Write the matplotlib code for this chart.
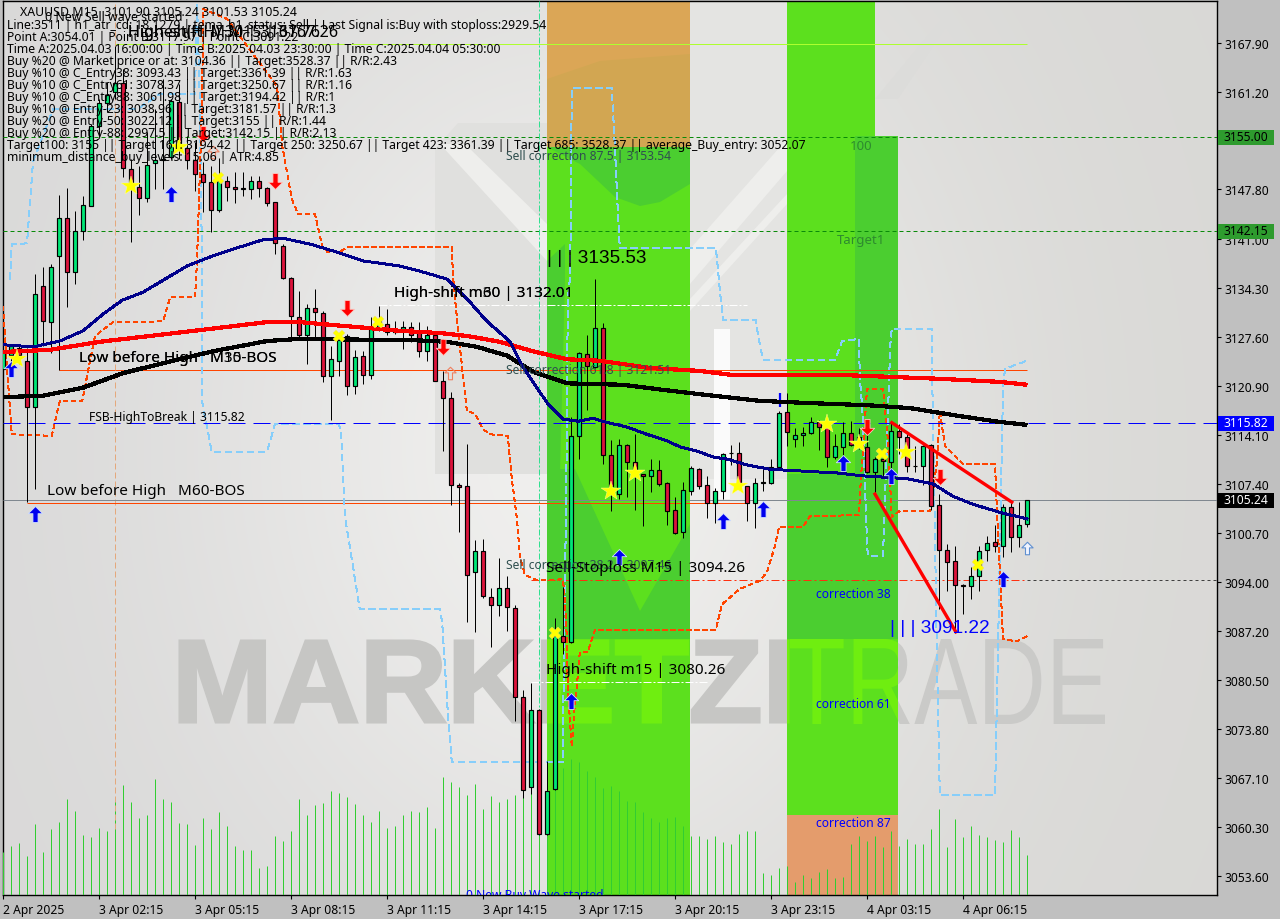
import numpy as np
import matplotlib
matplotlib.use("Agg")
import matplotlib.pyplot as plt
from matplotlib.patches import Polygon, Rectangle, PathPatch
from matplotlib.path import Path
from matplotlib.textpath import TextPath
from matplotlib.font_manager import FontProperties
from matplotlib.transforms import Affine2D

plt.rcParams['font.family'] = ['Noto Sans', 'DejaVu Sans']

# candles, XAUUSD M15
opens = [3123.2,3125.1,3126.0,3124.3,3118.0,3134.6,3129.6,3138.7,3143.9,3136.5,3142.1,3145.5,3156.5,3159.7,3161.2,3162.4,
         3150.6,3148.1,3146.6,3151.4,3151.8,3152.3,3159.8,3153.5,3151.8,3149.9,3148.8,3145.0,3149.0,3148.1,3147.9,3147.9,
         3149.0,3148.0,3146.1,3140.0,3135.7,3130.3,3127.8,3131.5,3130.8,3122.2,3124.3,3127.7,3120.8,3125.0,3122.3,3128.7,
         3129.3,3128.2,3128.7,3128.9,3128.2,3125.6,3127.8,3121.5,3119.2,3107.2,3107.1,3095.3,3098.2,3091.9,3090.8,3093.1,
         3090.4,3078.2,3065.8,3076.4,3059.4,3065.5,3086.5,3085.7,3114.0,3125.2,3123.4,3128.8,3111.4,3106.0,3112.7,3110.4,
         3108.8,3108.5,3109.3,3107.5,3103.8,3100.8,3106.4,3109.4,3107.2,3104.8,3106.4,3111.6,3111.6,3107.1,3104.8,3107.5,
         3107.5,3109.7,3117.3,3113.6,3114.1,3114.4,3115.9,3115.9,3111.1,3112.5,3114.4,3113.8,3112.5,3109.0,3110.8,3110.4,
         3114.7,3113.8,3109.9,3109.9,3112.7,3104.5,3098.3,3096.8,3093.5,3093.4,3094.8,3098.3,3099.4,3098.9,3104.2,3100.1,3101.9]
highs = [3126.6,3126.6,3126.6,3126.0,3136.2,3137.2,3137.6,3147.0,3148.0,3144.8,3146.9,3156.8,3160.2,3162.5,3167.5,3164.3,
         3152.0,3151.0,3155.7,3158.8,3163.0,3160.2,3162.3,3155.1,3154.3,3151.6,3151.0,3152.1,3149.6,3150.2,3150.2,3149.6,
         3149.6,3148.1,3146.1,3140.3,3135.8,3133.9,3132.1,3134.2,3131.1,3126.3,3128.0,3128.0,3125.8,3125.6,3130.3,3131.8,
         3131.4,3129.7,3129.7,3129.6,3129.6,3129.1,3128.2,3122.9,3120.0,3107.5,3112.9,3099.7,3099.9,3093.1,3097.2,3094.8,
         3090.8,3079.1,3080.1,3076.5,3069.4,3089.0,3093.3,3116.6,3125.5,3127.8,3135.5,3129.5,3113.4,3113.6,3112.9,3114.2,
         3108.8,3110.8,3110.7,3107.7,3105.6,3107.7,3109.9,3109.6,3108.5,3106.8,3111.6,3112.7,3113.1,3107.1,3108.2,3109.4,
         3110.8,3117.4,3119.9,3115.1,3115.2,3116.6,3116.2,3116.7,3114.2,3115.9,3116.0,3115.1,3114.9,3111.1,3112.2,3115.9,
         3115.6,3114.2,3112.6,3112.7,3112.9,3106.0,3099.2,3098.9,3093.7,3096.0,3098.9,3100.2,3101.8,3104.6,3104.9,3104.9,3105.24]
lows = [3121.8,3123.2,3123.9,3104.9,3106.7,3126.3,3125.4,3123.0,3131.7,3134.8,3140.9,3145.5,3155.1,3158.4,3160.2,3149.5,
        3140.6,3144.3,3146.1,3147.9,3147.9,3152.0,3152.0,3150.6,3147.6,3144.7,3142.0,3144.7,3146.2,3146.0,3146.9,3146.5,
        3146.8,3145.5,3138.9,3135.5,3127.3,3127.3,3123.9,3127.3,3121.4,3116.2,3122.2,3119.6,3119.7,3121.1,3121.8,3128.4,
        3127.8,3128.0,3125.9,3126.9,3124.8,3124.3,3121.5,3111.9,3104.5,3100.8,3088.4,3087.1,3091.7,3085.0,3089.3,3087.2,
        3074.9,3064.3,3064.9,3059.2,3059.2,3065.4,3084.1,3085.6,3110.8,3117.5,3123.3,3110.1,3103.7,3105.3,3105.6,3103.8,
        3101.6,3106.3,3107.1,3101.8,3100.5,3100.0,3105.9,3106.7,3102.7,3102.0,3105.3,3110.0,3107.0,3102.3,3101.3,3106.4,
        3107.4,3109.6,3112.6,3112.5,3112.6,3114.2,3112.0,3109.7,3110.8,3110.8,3112.6,3112.2,3108.9,3106.0,3108.3,3108.1,
        3111.5,3109.0,3109.0,3107.2,3103.8,3090.2,3092.7,3087.1,3089.5,3091.6,3092.7,3096.8,3098.1,3097.4,3098.1,3098.7,3101.53]
closes = [3125.6,3126.3,3125.1,3118.0,3133.4,3129.7,3137.2,3143.9,3136.5,3142.1,3145.7,3156.5,3159.7,3160.8,3162.4,3150.8,
          3148.3,3146.6,3151.2,3151.8,3152.0,3159.9,3153.8,3151.8,3149.9,3148.8,3145.0,3149.0,3148.1,3147.9,3148.0,3149.0,
          3148.0,3146.0,3140.4,3135.7,3130.4,3127.8,3131.5,3131.0,3122.2,3124.5,3127.1,3120.8,3124.8,3122.3,3128.7,3129.7,
          3128.2,3128.4,3128.9,3127.8,3125.6,3127.8,3121.5,3119.2,3107.2,3107.0,3094.9,3098.2,3092.0,3090.8,3093.1,3090.5,
          3078.2,3065.4,3076.4,3059.4,3065.3,3086.5,3085.7,3114.0,3125.4,3123.6,3128.8,3111.4,3107.1,3112.7,3110.4,3108.5,
          3108.5,3109.3,3107.4,3103.7,3100.7,3106.6,3109.6,3107.1,3104.8,3106.4,3111.5,3111.6,3107.1,3104.8,3107.5,3107.6,
          3109.7,3117.1,3114.5,3114.1,3114.4,3115.9,3115.2,3111.1,3112.6,3114.4,3112.7,3112.9,3109.0,3110.8,3110.5,3114.7,
          3113.8,3109.9,3109.8,3112.6,3104.4,3098.3,3096.7,3093.5,3093.4,3094.8,3098.2,3099.3,3098.9,3104.2,3100.1,3101.8,3105.24]
volumes = [43,49,52,39,71,43,66,73,96,84,60,58,67,64,97,110,93,77,80,116,96,93,72,71,50,77,66,83,69,49,45,45,27,29,59,54,
           64,96,80,90,92,104,102,98,91,80,73,84,67,69,80,84,83,88,67,118,113,108,100,111,86,99,93,96,100,119,124,124,128,
           128,127,136,133,124,118,107,109,104,94,93,83,77,73,77,78,69,59,59,56,59,53,51,61,64,64,22,20,27,29,13,20,17,23,
           26,17,18,51,59,54,59,48,64,49,56,51,51,66,86,48,76,58,69,60,58,55,53,65,58,40]

# moving averages (bar, price)
navy_x = [0,3.75,7.1,10,12.5,14.9,17.5,20.25,23,26.25,29.6,32.5,35,38.4,41.75,45,49.6,52.1,55.5,58,60.5,63.4,64.9,67.1,68.1,70,71.9,
          73.75,75.25,78,80.5,83,84.6,86.75,88.75,90.5,93,95.9,99.25,104.25,107.5,110.5,113,116.25,118.75,121.25,124.6,128]
navy_y = [3126.5,3126.2,3127.0,3128.4,3130.7,3132.6,3133.7,3135.5,3137.3,3138.7,3139.9,3140.9,3141.1,3140.3,3139.2,3138.0,3137.3,3136.6,
          3135.5,3132.8,3129.7,3126.9,3123.6,3120.0,3118.4,3116.3,3116.0,3116.4,3115.9,3115.2,3114.2,3113.3,3112.5,3111.9,3111.1,3110.8,
          3110.0,3109.4,3109.2,3108.9,3108.5,3108.3,3108.1,3107.4,3105.7,3104.6,3103.5,3102.6]
red_x = [0,5.9,12.1,18.4,24.6,33,37.1,41.25,45.5,49.6,54.6,58,62.1,66.25,70.5,74.6,80.9,87.1,91.5,105.9,117.5,124.6,128]
red_y = [3125.5,3125.8,3126.9,3127.7,3128.5,3129.6,3129.6,3129.2,3128.8,3128.4,3128.1,3127.7,3126.9,3125.6,3124.5,3124.3,3123.3,3122.9,
         3122.3,3122.3,3121.8,3121.4,3121.0]
black_x = [0,5,10,15,20.5,26.25,33,37.1,51.75,55.5,59.25,63,66.25,70.5,77.5,82.5,88.75,94.6,100.5,108,113.4,119.6,124.6,128]
black_y = [3119.3,3119.5,3120.6,3122.6,3124.1,3125.6,3127.0,3127.3,3127.1,3126.9,3126.2,3125.0,3122.8,3121.2,3121.0,3120.3,3119.5,3118.8,
           3118.5,3118.2,3117.8,3116.7,3115.9,3115.5]

# dashed channels
orange_x = [0,0.6,1.1,6.1,7.1,9.9,11.5,13.75,20,20.9,24,24.25,24.9,25,28,30.5,34.25,34.9,36.1,36.9,39,39.9,40.6,42.1,43,56.1,56.25,56.75,
            57.5,58,59,60,60.9,63.1,63.6,64.25,64.6,65.25,66.75,70,70.4,70.6,71.1,71.4,71.9,72.1,73.1,74,89.1,89.9,92.1,94.6,95.5,96.5,97,
            100,100.9,107,107.1,108,110,110.6,111.1,112.1,115.9,116.75,117.1,117.75,120,124,124.25,124.75,125,126.75,128]
orange_y = [3131.8,3121.8,3114.2,3114.0,3118.8,3118.8,3127.7,3129.6,3129.7,3133.0,3133.0,3137.9,3160.2,3172.6,3171.2,3167.5,3162.0,3153.8,
            3146.5,3144.4,3144.4,3140.0,3139.2,3139.2,3139.9,3139.9,3135.9,3130.0,3122.2,3117.3,3117.1,3114.9,3114.2,3114.0,3108.1,3102.6,
            3097.5,3094.9,3094.2,3094.3,3088.9,3079.3,3071.3,3076.1,3081.6,3084.3,3084.3,3087.4,3087.4,3090.9,3093.0,3094.1,3095.3,3098.9,
            3101.5,3101.5,3103.0,3103.1,3105.7,3120.4,3120.4,3113.6,3102.9,3103.7,3103.7,3110.4,3117.4,3112.6,3110.1,3110.1,3103.5,3092.0,
            3086.1,3085.8,3086.5]
sky_x = [0.9,1.1,3,3.75,6.25,16.75,19.6,24,24.25,24.6,24.9,24.9,25.5,26.1,33,34,42,42.25,42.75,44.6,54.6,54.9,55.6,56.1,70,70.1,70.4,70.6,70.9,
         71.1,76.1,76.5,76.9,77.1,89.1,89.4,89.6,90,94.1,94.4,95,104,104.9,107,107.1,107.4,108,108.1,110,110.6,110.9,111.1,116.1,116.1,
         116.25,116.75,117.1,124,124.4,125,125.25,128]
sky_y = [3135.5,3140.3,3140.4,3151.6,3158.8,3158.8,3160.9,3160.9,3173.5,3160.2,3135.5,3118.6,3115.2,3111.8,3111.8,3115.6,3115.6,3114.5,3102.9,
         3090.2,3090.2,3088.4,3076.1,3069.2,3069.2,3084.3,3105.3,3132.8,3135.9,3161.7,3161.7,3153.3,3143.7,3139.8,3139.8,3136.5,3134.1,3129.9,
         3129.9,3127.7,3124.4,3124.4,3127.0,3127.3,3121.8,3118.1,3099.4,3097.5,3097.5,3116.3,3126.3,3128.7,3128.7,3124.5,3116.3,3083.4,3064.7,
         3064.7,3086.1,3120.4,3123.2,3124.3]

# signal marks (bar, price)
star_x = [1.75,16,22,76,79,91.9,103,107,112.9]
star_y = [3124.5,3148.3,3153.6,3106.4,3108.9,3107.1,3115.6,3112.9,3111.8]
cross_x = [26.9,42,46.9,69,109.9,121.9]
cross_y = [3149.4,3127.7,3129.6,3086.9,3111.5,3096.3]
up_x = [1,4,21,77,71,90,95,105,111,125]
up_y = [3123.2,3103.3,3147.2,3097.4,3077.6,3102.3,3103.9,3110.3,3108.5,3094.3]
down_x = [25,34,43,55,108,117.1]
down_y = [3155.4,3149.0,3131.5,3126.2,3115.2,3108.3]

price_ticks = [3167.90,3161.20,3147.80,3141.00,3134.30,3127.60,3120.90,3114.10,3107.40,3100.70,3094.00,3087.20,3080.50,3073.80,3067.10,3060.30,3053.60]
time_labels = ['2 Apr 2025','3 Apr 02:15','3 Apr 05:15','3 Apr 08:15','3 Apr 11:15','3 Apr 14:15','3 Apr 17:15','3 Apr 20:15','3 Apr 23:15','4 Apr 03:15','4 Apr 06:15']

info_lines = [
    'Line:3511 | h1_atr_cd: 18.1279 | tema_h1_status: Sell | Last Signal is:Buy with stoploss:2929.54',
    'Point A:3054.01 | Point B:3117.97 | Point C:3091.22',
    'Time A:2025.04.03 16:00:00 | Time B:2025.04.03 23:30:00 | Time C:2025.04.04 05:30:00',
    'Buy %20 @ Market price or at: 3104.36 || Target:3528.37 || R/R:2.43',
    'Buy %10 @ C_Entry38: 3093.43 || Target:3361.39 || R/R:1.63',
    'Buy %10 @ C_Entry61: 3078.37 || Target:3250.67 || R/R:1.16',
    'Buy %10 @ C_Entry88: 3061.98 || Target:3194.42 || R/R:1',
    'Buy %10 @ Entry-23: 3038.96 || Target:3181.57 || R/R:1.3',
    'Buy %20 @ Entry-50: 3022.12 || Target:3155 || R/R:1.44',
    'Buy %20 @ Entry-88: 2997.5 || Target:3142.15 || R/R:2.13',
    'Target100: 3155 || Target 161: 3194.42 || Target 250: 3250.67 || Target 423: 3361.39 || Target 685: 3528.37 || average_Buy_entry: 3052.07',
    'minimum_distance_buy_levels: 15.06 | ATR:4.85',
]

LIME = '#5ce01e'
DARK_LIME = '#4bce30'
BRIGHT_LIME = '#6fee10'

fig = plt.figure(figsize=(12.8, 9.2), dpi=100, facecolor='#c0c0c0')
ax = fig.add_axes([3/1280, 24/920, 1214/1280, 894/920])
ymin, ymax = 3050.99, 3173.66
xs = np.arange(len(opens))

# page pixels, y going down, for the watermark and text
px = Affine2D().scale(1, -1).translate(0, 920)

# chart background
gx, gy = np.meshgrid(np.linspace(0, 1, 320), np.linspace(0, 1, 230))
glow = 0.85 + 0.09*np.exp(-((gx-0.47)**2/0.10 + (gy-0.5)**2/0.30))
bg = np.dstack([glow, glow - 0.002, glow - 0.008*gx - 0.004])
ax.imshow(bg, extent=(0, 151.75, ymin, ymax), aspect='auto', zorder=0, interpolation='bilinear')

# logo behind everything
for pts, col in [
    ([(435,150),(458,124),(547,124),(547,475),(435,475)], '#e0e0de'),
    ([(440,145),(465,145),(547,225),(547,262)], '#eeeeec'),
    ([(690,2),(787,2),(787,480),(690,480)], '#e4e4e2'),
    ([(690,250),(787,140),(787,172),(690,285)], '#eeeeec'),
    ([(690,300),(787,195),(787,205),(690,312)], '#eeeeec'),
    ([(714,330),(730,330),(730,500),(714,500)], '#fafafa'),
    ([(875,100),(950,10),(950,22),(898,100)], '#dcdcda'),
]:
    ax.add_patch(Polygon(pts, closed=True, fc=col, ec='none', transform=px, zorder=0.5))

# watermark, squeezed into its box
def fit_word(word, weight, box):
    tp = TextPath((0, 0), word, size=100, prop=FontProperties(family='Liberation Sans', weight=weight))
    b = tp.get_extents()
    sx = (box[1]-box[0])/b.width
    sy = (box[3]-box[2])/b.height
    verts = np.column_stack([box[0] + (tp.vertices[:, 0]-b.x0)*sx, box[3] - (tp.vertices[:, 1]-b.y0)*sy])
    return Path(verts, tp.codes)

heavy = fit_word('MARKETZI', 'bold', (180, 788, 642, 723))
thin = fit_word('TRADE', 'normal', (790, 1105, 640, 725))
ax.add_patch(PathPatch(heavy, fc='#c6c6c4', ec='#c6c6c4', lw=2.2, transform=px, zorder=0.8))
ax.add_patch(PathPatch(thin, fc='#cacac8', ec='none', transform=px, zorder=0.8))

# correction zones
band_a = (68.0, 85.9)
band_b = (98.0, 111.9)
zones = [
    (band_a[0], band_a[1], 3153.6, ymax, '#dba656'),
    (band_a[0], band_a[1], ymin, 3153.6, LIME),
    (band_b[0], 109.0, 3155.0, ymax, LIME),
    (band_b[0], band_b[1], 3062.0, 3155.0, LIME),
    (band_b[0], band_b[1], ymin, 3062.0, '#e49c6c'),
]
clips = []
for x0, x1, y0, y1, col in zones:
    r = Rectangle((x0, y0), x1-x0, y1-y0, fc=col, ec='none', zorder=2)
    ax.add_patch(r)
    if col == LIME:
        clips.append(r)

for pts, col in [
    ([(547,148),(690,148),(690,185),(660,203),(640,207),(615,198),(580,165)], DARK_LIME),
    ([(547,262),(565,245),(565,280),(560,475),(547,475)], DARK_LIME),
    ([(547,470),(575,470),(640,612),(690,525),(690,640),(547,640)], DARK_LIME),
    ([(855,137),(898,137),(898,640),(787,640),(787,475),(855,475)], DARK_LIME),
    ([(547,80),(600,62),(690,55),(690,148),(547,148)], '#d2a652'),
]:
    ax.add_patch(Polygon(pts, closed=True, fc=col, ec='none', transform=px, zorder=2.1))

# watermark shows through the green zones as a brighter green
for r in clips:
    for w, edge in ((heavy, 2.2), (thin, 0)):
        p = PathPatch(w, fc=BRIGHT_LIME, ec=BRIGHT_LIME, lw=edge, transform=px, zorder=2.2)
        ax.add_patch(p)
        p.set_clip_path(r)

# one pixel wide, straight lines snap to the pixel grid at this width
THIN = 0.72
crisp = dict(antialiased=False)

# volume along the bottom
vol_scale = (ymax - ymin)/894
ax.vlines(xs, ymin, ymin + np.array(volumes)*vol_scale, color='#32cd32', lw=THIN, zorder=3)

# levels
full = (0, 151.75)
ax.hlines(3155.00, *full, color='#0a8a0a', lw=THIN, linestyles=(0, (4, 3)), zorder=3)
ax.hlines(3142.15, *full, color='#0a8a0a', lw=THIN, linestyles=(0, (4, 3)), zorder=3)
ax.hlines(3167.75, 14, 128, color='#adff2f', lw=THIN, zorder=3)
ax.hlines(3132.01, 47, 93, color='white', lw=THIN, linestyles=(0, (8, 2, 2, 2)), zorder=3)
ax.hlines(3080.26, 66, 88, color='white', lw=THIN, linestyles=(0, (8, 2, 2, 2)), zorder=3)
ax.hlines(3123.0, 7, 128, color='#ff4500', lw=THIN, zorder=3)
ax.hlines(3094.26, 66, 128, color='#ff3010', lw=THIN, linestyles=(0, (8, 3, 2, 3)), zorder=3)
ax.hlines(3094.26, 128, 151.75, color='#404040', lw=THIN, linestyles=(0, (3, 3)), zorder=3)
ax.vlines(14, 3060.0, ymax, color='#e4a87c', lw=THIN, linestyles=(0, (6, 3)), zorder=3)
ax.vlines(67, 3059.2, ymax, color='#30e090', lw=THIN, linestyles=(0, (6, 2, 2, 2)), zorder=3)
ax.hlines(3105.24, *full, color='#808890', lw=THIN, zorder=3.1)
ax.hlines(3104.8, 3, 93, color='#ff4500', lw=THIN, zorder=3.1)

ax.plot(sky_x, sky_y, color='#87cefa', lw=0.5, ls=(0, (9, 6)), zorder=3.2, **crisp)
ax.plot(orange_x, orange_y, color='#ff4500', lw=0.5, ls=(0, (7, 5)), zorder=3.2, **crisp)
ax.hlines(3115.82, *full, color='#0000ff', lw=THIN, linestyles=(0, (17, 8)), zorder=3.3)

# candles
up = np.array(closes) >= np.array(opens)
ax.vlines(xs, lows, highs, color='black', lw=THIN, zorder=4)
ax.bar(xs, np.abs(np.array(closes)-np.array(opens)), bottom=np.minimum(opens, closes), width=0.62,
       color=np.where(up, '#00e676', '#dc143c'), edgecolor='black', linewidth=0.85, zorder=4.1)
ax.vlines(97.1, 3118.0, 3119.9, color='#0000ff', lw=1.6, zorder=4.2)

# averages
ax.plot(red_x, red_y, color='#ff0000', lw=2.3, zorder=5, solid_capstyle='butt', **crisp)
ax.plot(black_x, black_y, color='black', lw=2.3, zorder=5.1, solid_capstyle='butt', **crisp)
ax.plot(navy_x, navy_y, color='#00008b', lw=1.4, zorder=5.2, **crisp)

# trend legs
ax.plot([111.1, 126.1], [3115.8, 3104.9], color='#ff0000', lw=2.4, zorder=5.3)
ax.plot([109, 119.1], [3106.0, 3087.1], color='#ff0000', lw=2.4, zorder=5.3)

# arrow shape for the signals
arrow_up = Path([(-0.16,-0.5),(0.16,-0.5),(0.16,0.05),(0.45,0.05),(0,0.5),(-0.45,0.05),(-0.16,0.05),(-0.16,-0.5)], closed=True)
arrow_down = Path(arrow_up.vertices*np.array([1, -1]), closed=True)
ax.plot(up_x, up_y, ls='none', marker=arrow_up, ms=11.5, mfc='#0000ee', mec='#cfe0ff', mew=0.6, zorder=6)
ax.plot(down_x, down_y, ls='none', marker=arrow_down, ms=11.5, mfc='#ff0000', mec='#ffc8c0', mew=0.6, zorder=6)
ax.plot(star_x, star_y, ls='none', marker='*', ms=15, mfc='#ffff00', mec='#ffffa0', mew=0.3, zorder=6)
ax.plot(cross_x, cross_y, ls='none', marker='X', ms=9, mfc='#ffff00', mec='#f0e070', mew=0.3, zorder=6)
ax.plot([55.9, 26.2], [3122.6, 3152.9], ls='none', marker=arrow_up, ms=9, mfc='none', mec='#f08060', mew=0.8, zorder=6)
ax.plot([128], [3098.6], ls='none', marker=arrow_up, ms=9, mfc='#f0f4ff', mec='#6090d0', mew=0.8, zorder=6)


def label(x, y, s, size=8.6, color='black', **kw):
    ax.text(x, y, s, transform=px, fontsize=size, color=color, va='center', ha='left', zorder=7, **kw)


label(20, 13, 'XAUUSD,M15  3101.90 3105.24 3101.53 3105.24', size=8.9)
label(45, 18, '0 New Sell wave started', size=8.9)
for k, line in enumerate(info_lines):
    label(7, 26 + 12*k, line, size=8.75)
label(128, 33, 'High-shift  M30 | 3167.76', size=11.6)
label(128, 33, 'Highest(HH)  M15 | 3167.26', size=11.6)
label(506, 157, 'Sell correction 87.5 | 3153.54', size=8.7, color='#2f4f4f')
label(547, 259, '| | | 3135.53', size=13.7, family='Liberation Sans')
label(394, 294, 'High-shift m30 | 3132.01', size=11)
label(394, 294, 'High-shift m60 | 3132.01', size=11)
label(79, 359, 'Low before High   M30-BOS', size=11)
label(79, 359, 'Low before High   M15-BOS', size=11)
label(506, 371, 'Sell correction 61.8 | 3121.51', size=8.7, color='#2f4f4f')
label(89, 418, 'FSB-HighToBreak | 3115.82', size=8.7)
label(47, 492, 'Low before High   M60-BOS', size=11)
label(506, 566, 'Sell correction 38.2 | 3097.46', size=8.7, color='#2f4f4f')
label(546, 569, 'Sell-Stoploss M15 | 3094.26', size=11)
label(546, 671, 'High-shift m15 | 3080.26', size=11)
label(816, 595, 'correction 38', size=8.7, color='#0000ff')
label(816, 705, 'correction 61', size=8.7, color='#0000ff')
label(816, 824, 'correction 87', size=8.7, color='#0000ff')
label(850, 147, '100', size=9.5, color='#2e8b2e')
label(837, 241, 'Target1', size=9.5, color='#2e8b2e')
label(890, 629, '| | | 3091.22', size=13.7, color='#0000ff', family='Liberation Sans')
t = ax.text(466, 896, '0 New Buy Wave started', transform=px, fontsize=8.7, color='#0000ff', va='center', ha='left', zorder=7, clip_on=True)

# axes
ax.set_xlim(0, 151.75)
ax.set_ylim(ymin, ymax)
ax.yaxis.tick_right()
ax.set_yticks(price_ticks)
ax.set_yticklabels([f'{p:.2f}' for p in price_ticks], fontsize=8.7)
ax.set_xticks(np.arange(len(time_labels))*12)
ax.set_xticklabels(time_labels, fontsize=8.7, ha='left')
ax.tick_params(axis='y', length=3, width=0.8, pad=2, color='black')
ax.tick_params(axis='x', length=3, width=0.8, pad=3, color='black')
for s in ax.spines.values():
    s.set_linewidth(1.0)
    s.set_color('black')

# price tags
for price, fc, tc in [(3155.00, '#2e9b2e', 'black'), (3142.15, '#2e9b2e', 'black'), (3115.82, '#0000ff', 'white'), (3105.24, 'black', 'white')]:
    row = 920 - (24 + (price - ymin)/vol_scale)
    ax.add_patch(Rectangle((1218, row-7), 56, 15, fc=fc, ec='none', transform=px, clip_on=False, zorder=7.9))
    ax.text(1223, row, f'{price:.2f}', transform=px, fontsize=8.7, color=tc, ha='left', va='center', zorder=8, clip_on=False)

fig.savefig('out.png', dpi=100, facecolor=fig.get_facecolor())
